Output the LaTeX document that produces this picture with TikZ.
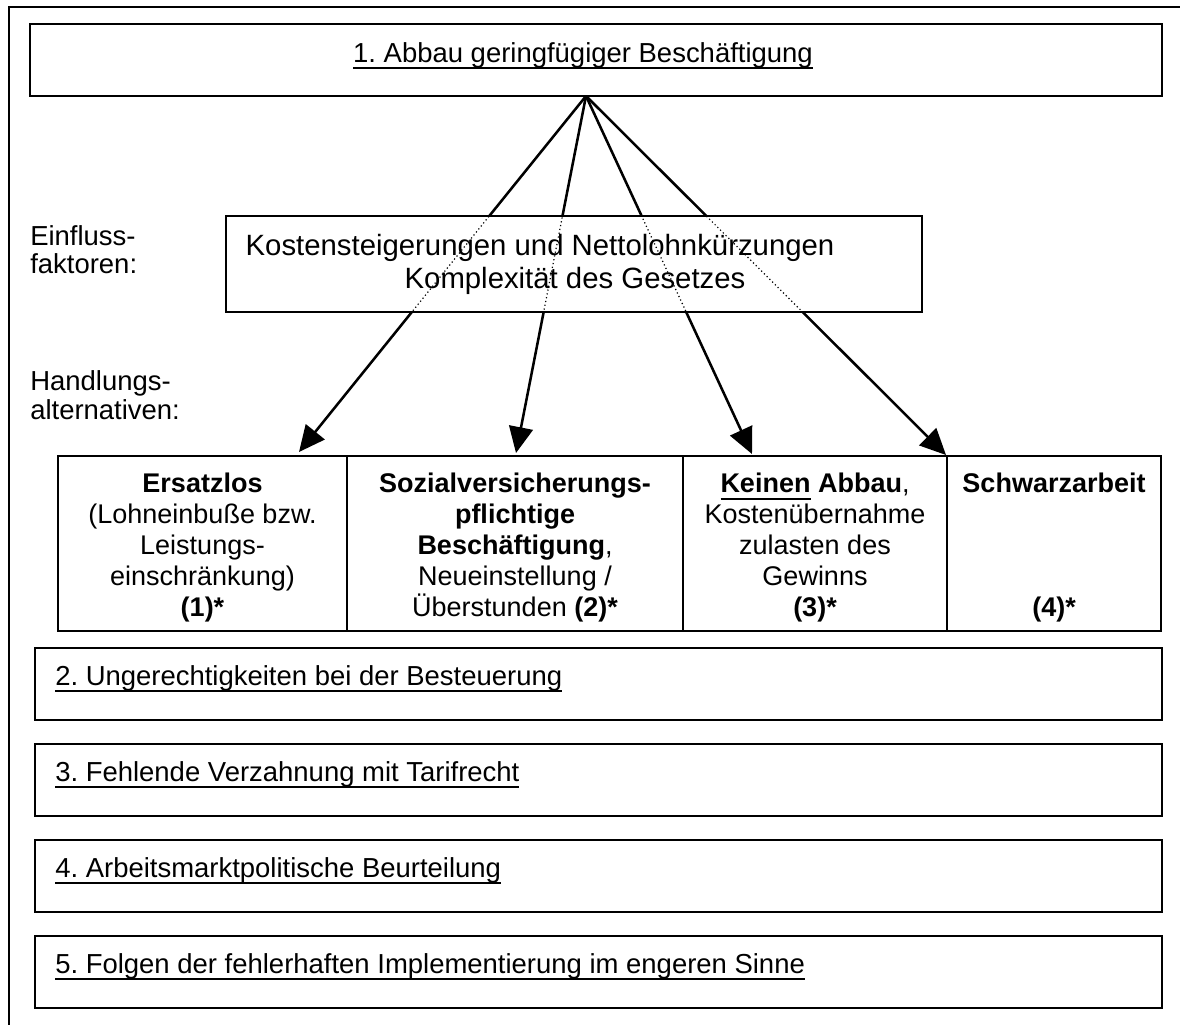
\documentclass[tikz,border=0pt]{standalone}
\usepackage{fontspec}
\setmainfont{Liberation Sans}
\frenchspacing
\newsavebox{\ulbox}
\newcommand{\myul}[1]{\sbox{\ulbox}{#1}\rlap{\rule[-5.2pt]{\wd\ulbox}{1.5pt}}\usebox{\ulbox}}
\usetikzlibrary{arrows.meta}
\begin{document}
\begin{tikzpicture}[x=0.75pt,y=-0.75pt,
  box/.style={draw, line width=1.9pt, fill=white, inner sep=0pt, outer sep=0pt},
  cell/.style={draw, line width=1.6pt, inner sep=0pt, outer sep=0pt, minimum height=131.25pt},
  item/.style={box, minimum width=845.25pt, minimum height=54pt},
  lbl/.style={font=\fontsize{20.6pt}{22.5pt}\selectfont, inner sep=0pt},
  mid/.style={font=\fontsize{22pt}{25pt}\selectfont, inner sep=0pt},
  celltxt/.style={font=\fontsize{20.25pt}{23.25pt}\selectfont, inner sep=0pt, align=center, anchor=north},
  arr/.style={line width=1.9pt, -{Triangle[length=19.5pt,width=18pt]}},
  dots/.style={line width=0.9pt, dotted}]
\useasboundingbox (0,0) rectangle (1180,1025);
% outer frame
\draw[line width=1.5pt] (1180,7) -- (9,7) -- (9,1025);

% top box
\node[box, minimum width=849pt, minimum height=54pt] (top) at (596,60) {};
\node[lbl, anchor=base] (toptxt) at (583,62) {\myul{1. Abbau geringfügiger Beschäftigung}};

% bottom row cells
\node[cell, minimum width=216.75pt] (c1) at (202.5,543.5) {};
\node[cell, minimum width=252pt]    (c2) at (515,543.5) {};
\node[cell, minimum width=198pt]    (c3) at (815,543.5) {};
\node[cell, minimum width=160.5pt]  (c4) at (1054,543.5) {};

% connector endpoints
\coordinate (o) at (586,96);
\coordinate (t1) at (299,452);
\coordinate (t2) at (516,453);
\coordinate (t3) at (752,454);
\coordinate (t4) at (946,455);

% arrows
\draw[arr] (o) -- (t1);
\draw[arr] (o) -- (t2);
\draw[arr] (o) -- (t3);
\draw[arr] (o) -- (t4);

% middle box over the arrows
\node[box, minimum width=522pt, minimum height=72pt] (midbox) at (574,264) {};
\begin{scope}
  \clip ([shift={(1.8,1.8)}]midbox.north west) rectangle ([shift={(-1.8,-1.8)}]midbox.south east);
  \draw[dots] (o) -- (t1);
  \draw[dots] (o) -- (t2);
  \draw[dots] (o) -- (t3);
  \draw[dots] (o) -- (t4);
\end{scope}
\node[mid, anchor=base] (m1) at (540,255) {Kostensteigerungen und Nettolohnkürzungen};
\node[mid, anchor=base] (m2) at (575,288) {Komplexität des Gesetzes};

% side labels
\node[lbl, anchor=base west] (e1) at (30,245) {Einfluss-};
\node[lbl, anchor=base west] (e2) at (30,273) {faktoren:};
\node[lbl, anchor=base west] (h1) at (30,390) {Handlungs-};
\node[lbl, anchor=base west] (h2) at (30,419) {alternativen:};

% cell texts
\node[celltxt] (c1t) at (202.5,473) {\textbf{Ersatzlos}\\(Lohneinbuße bzw.\\Leistungs-\\einschränkung)\\\textbf{(1)*}};
\node[celltxt] (c2t) at (515,473) {\textbf{Sozialversicherungs-}\\\textbf{pflichtige}\\\textbf{Beschäftigung},\\Neueinstellung /\\Überstunden \textbf{(2)*}};
\node[celltxt] (c3t) at (815,473) {\myul{\textbf{Keinen}} \textbf{Abbau},\\Kostenübernahme\\zulasten des\\Gewinns\\\textbf{(3)*}};
\node[celltxt] (c4t) at (1054,473) {\textbf{Schwarzarbeit}\\[69.75pt]\textbf{(4)*}};

% lower boxes
\node[item] (b2) at (598.5,684) {};
\node[item] (b3) at (598.5,780) {};
\node[item] (b4) at (598.5,876) {};
\node[item] (b5) at (598.5,972) {};
\node[lbl, anchor=base west] (b2t) at (55,685) {\myul{2. Ungerechtigkeiten bei der Besteuerung}};
\node[lbl, anchor=base west] (b3t) at (55,781) {\myul{3. Fehlende Verzahnung mit Tarifrecht}};
\node[lbl, anchor=base west] (b4t) at (55,877) {\myul{4. Arbeitsmarktpolitische Beurteilung}};
\node[lbl, anchor=base west] (b5t) at (55,973) {\myul{5. Folgen der fehlerhaften Implementierung im engeren Sinne}};
\end{tikzpicture}
\end{document}
